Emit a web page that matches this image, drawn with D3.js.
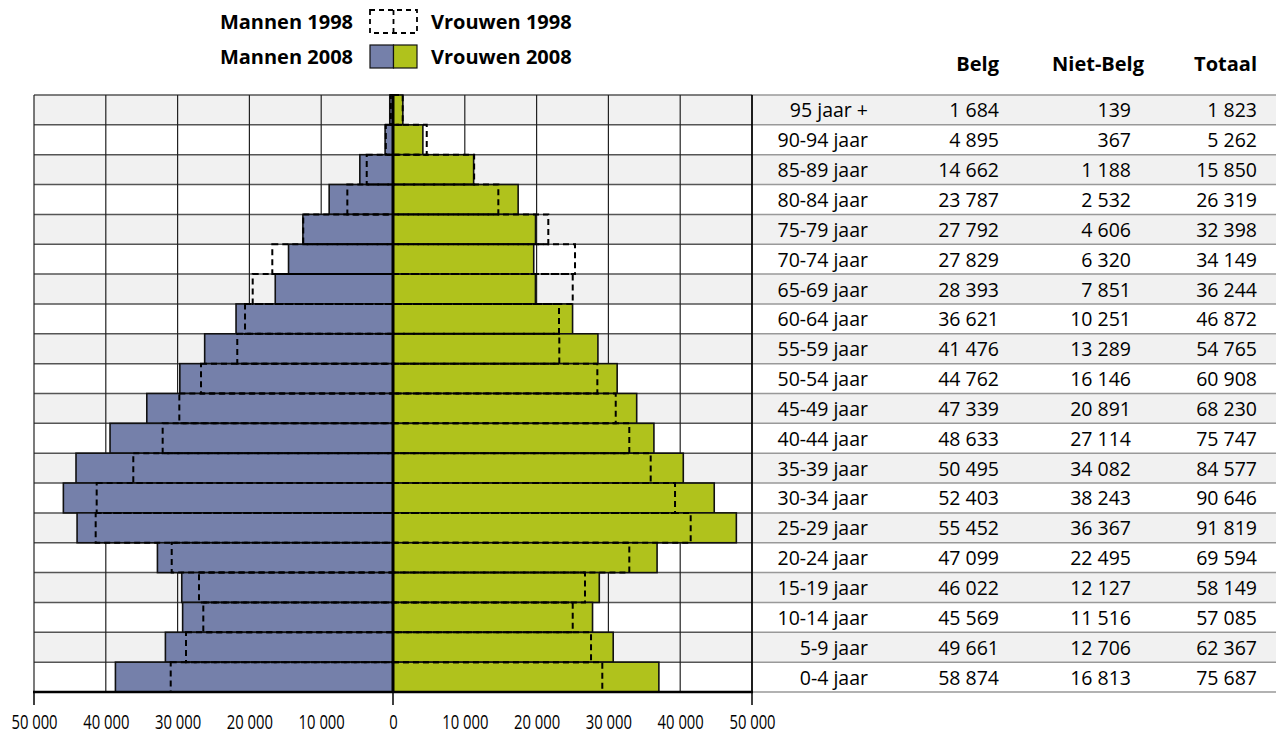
<!DOCTYPE html>
<html>
<head>
<meta charset="utf-8">
<script src="https://cdn.jsdelivr.net/npm/d3@7"></script>
<style>
  body { margin: 0; background: #fff; }
  text { font-family: "Open Sans", sans-serif; }
</style>
</head>
<body>
<div id="pyr"></div>
<script>
const ages = ["95 jaar +", "90-94 jaar", "85-89 jaar", "80-84 jaar", "75-79 jaar", "70-74 jaar",
  "65-69 jaar", "60-64 jaar", "55-59 jaar", "50-54 jaar", "45-49 jaar", "40-44 jaar", "35-39 jaar",
  "30-34 jaar", "25-29 jaar", "20-24 jaar", "15-19 jaar", "10-14 jaar", "5-9 jaar", "0-4 jaar"];

const men2008 = [450, 1100, 4620, 8890, 12550, 14550, 16400, 21860, 26230, 29690, 34290, 39410,
  44150, 45910, 44000, 32810, 29420, 29300, 31700, 38660];
const women2008 = [1370, 4160, 11230, 17430, 19850, 19600, 19840, 25010, 28540, 31220, 33940, 36340,
  40430, 44740, 47820, 36780, 28730, 27790, 30670, 37030];
const men1998 = [300, 1000, 3660, 6360, 12500, 16810, 19540, 20610, 21690, 26740, 29760, 32080,
  36170, 41270, 41410, 30820, 27020, 26420, 28830, 30960];
const women1998 = [1350, 4700, 11300, 14670, 21630, 25350, 25030, 23120, 23160, 28460, 31020, 32910,
  35890, 39280, 41460, 32910, 26740, 25030, 27580, 29150];

const belg = [1684, 4895, 14662, 23787, 27792, 27829, 28393, 36621, 41476, 44762, 47339, 48633,
  50495, 52403, 55452, 47099, 46022, 45569, 49661, 58874];
const nietBelg = [139, 367, 1188, 2532, 4606, 6320, 7851, 10251, 13289, 16146, 20891, 27114,
  34082, 38243, 36367, 22495, 12127, 11516, 12706, 16813];
const totaal = [1823, 5262, 15850, 26319, 32398, 34149, 36244, 46872, 54765, 60908, 68230, 75747,
  84577, 90646, 91819, 69594, 58149, 57085, 62367, 75687];

const xTicks = [-50000, -40000, -30000, -20000, -10000, 0, 10000, 20000, 30000, 40000, 50000];
const tableHeads = ["Belg", "Niet-Belg", "Totaal"];

const MAN = "#7580aa", VROUW = "#b0c21c";

// thousands separated by a space, as in the original
const fmt = d => d3.format(",")(d).replace(/,/g, " ");

class Pyramid {
  constructor(config) {
    this.config = config;
    this.svg = null;
    this.xScale = null;
    this.yScale = null;
    this.rows = ages.map((a, i) => ({
      age: a, i: i,
      m08: men2008[i], w08: women2008[i], m98: men1998[i], w98: women1998[i],
      belg: belg[i], niet: nietBelg[i], tot: totaal[i]
    }));
    this.createSvg();
  }

  createSvg() {
    this.svg = d3.select(this.config.div)
      .append("svg")
      .attr("width", this.config.width)
      .attr("height", this.config.height);
  }

  createScales() {
    this.xScale = d3.scaleLinear().domain([-50000, 50000]).range([this.config.left, this.config.right]);
    this.yScale = d3.scaleBand().domain(ages).range([this.config.top, this.config.bottom]).padding(0);
  }

  background() {
    let c = this.config;
    let x = this.xScale, y = this.yScale;

    this.svg.append("g").selectAll("rect")
      .data(this.rows)
      .join("rect")
      .attr("x", c.left)
      .attr("y", d => y(d.age))
      .attr("width", c.width - c.left)
      .attr("height", y.bandwidth())
      .attr("fill", d => d.i % 2 === 0 ? "#f1f1f1" : "#fff");

    // row lines, darker over the chart, lighter over the table
    let edges = ages.map(a => y(a)).concat([c.bottom]);
    this.svg.append("g").selectAll("line")
      .data(edges)
      .join("line")
      .attr("x1", c.left).attr("x2", c.right)
      .attr("y1", d => d).attr("y2", d => d)
      .attr("stroke", "#555").attr("stroke-width", 1.5);
    this.svg.append("g").selectAll("line")
      .data(edges)
      .join("line")
      .attr("x1", c.right).attr("x2", c.width)
      .attr("y1", d => d).attr("y2", d => d)
      .attr("stroke", "#999").attr("stroke-width", 1.5);

    this.svg.append("g").selectAll("line")
      .data(xTicks)
      .join("line")
      .attr("x1", d => x(d)).attr("x2", d => x(d))
      .attr("y1", c.top).attr("y2", c.bottom)
      .attr("stroke", "#222").attr("stroke-width", 1.2);
  }

  render() {
    let x = this.xScale, y = this.yScale;

    this.svg.append("g").selectAll("rect")
      .data(this.rows)
      .join("rect")
      .attr("x", d => x(-d.m08))
      .attr("y", d => y(d.age))
      .attr("width", d => x(0) - x(-d.m08))
      .attr("height", y.bandwidth())
      .attr("fill", MAN).attr("stroke", "#111").attr("stroke-width", 1.6);

    this.svg.append("g").selectAll("rect")
      .data(this.rows)
      .join("rect")
      .attr("x", x(0))
      .attr("y", d => y(d.age))
      .attr("width", d => x(d.w08) - x(0))
      .attr("height", y.bandwidth())
      .attr("fill", VROUW).attr("stroke", "#111").attr("stroke-width", 1.6);

    // 1998 outlines
    let dashed = this.svg.append("g")
      .attr("fill", "none").attr("stroke", "#000")
      .attr("stroke-width", 2).attr("stroke-dasharray", "6,4");
    dashed.selectAll(".m98")
      .data(this.rows)
      .join("rect")
      .attr("class", "m98")
      .attr("x", d => x(-d.m98))
      .attr("y", d => y(d.age))
      .attr("width", d => x(0) - x(-d.m98))
      .attr("height", y.bandwidth());
    dashed.selectAll(".w98")
      .data(this.rows)
      .join("rect")
      .attr("class", "w98")
      .attr("x", x(0))
      .attr("y", d => y(d.age))
      .attr("width", d => x(d.w98) - x(0))
      .attr("height", y.bandwidth());

    // centre line
    this.svg.append("line")
      .attr("x1", x(0)).attr("x2", x(0))
      .attr("y1", this.config.top).attr("y2", this.config.bottom)
      .attr("stroke", "#000").attr("stroke-width", 3);
  }

  createAxis() {
    let c = this.config;
    let xAxis = d3.axisBottom(this.xScale)
      .tickValues(xTicks)
      .tickSize(0)
      .tickPadding(23)
      .tickFormat(d => fmt(Math.abs(d)));

    let g = this.svg.append("g")
      .attr("transform", `translate(0,${c.bottom})`)
      .call(xAxis);
    g.select(".domain").remove();
    // condensed look of the original labels
    g.selectAll(".tick text")
      .attr("fill", "#000")
      .attr("transform", "scale(0.76,1)")
      .style("font-size", "19.5px");

    g.selectAll(".bigtick")
      .data([-50000, 0, 50000])
      .join("line")
      .attr("x1", d => this.xScale(d)).attr("x2", d => this.xScale(d))
      .attr("y1", 0).attr("y2", 13)
      .attr("stroke", "#000").attr("stroke-width", 1.5);

    g.append("line")
      .attr("x1", c.left - 1).attr("x2", c.right + 1)
      .attr("y1", 0).attr("y2", 0)
      .attr("stroke", "#000").attr("stroke-width", 2.5);
  }

  table() {
    let c = this.config, y = this.yScale;
    let cols = [
      { key: "age", x: 868, f: d => d },
      { key: "belg", x: 999, f: fmt },
      { key: "niet", x: 1131, f: fmt },
      { key: "tot", x: 1257, f: fmt }
    ];

    this.svg.append("line")
      .attr("x1", c.right).attr("x2", c.right)
      .attr("y1", c.top).attr("y2", c.bottom)
      .attr("stroke", "#000").attr("stroke-width", 1.5);

    let t = this.svg.append("g")
      .attr("text-anchor", "end")
      .style("font-size", "19.5px");
    cols.forEach(col => {
      t.selectAll(".c-" + col.key)
        .data(this.rows)
        .join("text")
        .attr("class", "c-" + col.key)
        .attr("x", col.x)
        .attr("y", d => y(d.age) + y.bandwidth() / 2 + 7.5)
        .text(d => col.f(d[col.key]));
    });

    this.svg.append("g")
      .attr("text-anchor", "end")
      .style("font-size", "20px").style("font-weight", "bold")
      .selectAll("text")
      .data(tableHeads)
      .join("text")
      .attr("x", (d, i) => [999, 1144, 1257][i])
      .attr("y", 71)
      .text(d => d);
  }

  legend() {
    let g = this.svg.append("g").style("font-size", "20px").style("font-weight", "bold");
    let bx = 370, bw = 47, bh = 23;

    g.append("text").attr("x", 353).attr("y", 29).attr("text-anchor", "end").text("Mannen 1998");
    g.append("text").attr("x", 431).attr("y", 29).text("Vrouwen 1998");
    g.append("text").attr("x", 353).attr("y", 64).attr("text-anchor", "end").text("Mannen 2008");
    g.append("text").attr("x", 431).attr("y", 64).text("Vrouwen 2008");

    g.append("rect").attr("x", bx).attr("y", 45).attr("width", bw / 2).attr("height", bh)
      .attr("fill", MAN).attr("stroke", "#111").attr("stroke-width", 1.2);
    g.append("rect").attr("x", bx + bw / 2).attr("y", 45).attr("width", bw / 2).attr("height", bh)
      .attr("fill", VROUW).attr("stroke", "#111").attr("stroke-width", 1.2);

    let d = g.append("g").attr("fill", "none").attr("stroke", "#000")
      .attr("stroke-width", 1.8).attr("stroke-dasharray", "5,4");
    d.append("rect").attr("x", bx).attr("y", 10).attr("width", bw).attr("height", bh);
    d.append("line").attr("x1", bx + bw / 2).attr("x2", bx + bw / 2).attr("y1", 10).attr("y2", 10 + bh);
  }
}

function main() {
  let c = { div: "#pyr", width: 1276, height: 734, top: 95, bottom: 692, left: 34, right: 752 };
  let app = new Pyramid(c);
  app.createScales();
  app.background();
  app.render();
  app.createAxis();
  app.table();
  app.legend();
}

main();
</script>
</body>
</html>
